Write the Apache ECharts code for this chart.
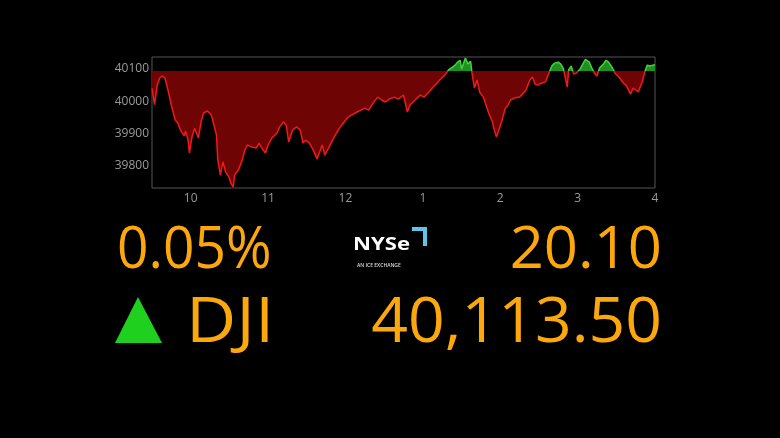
<!DOCTYPE html>
<html>
<head>
<meta charset="utf-8">
<style>
  html, body { margin: 0; padding: 0; background: #000; }
  #chart { width: 780px; height: 438px; }
</style>
<script src="https://cdn.jsdelivr.net/npm/echarts@6/dist/echarts.min.js"></script>
</head>
<body>
<div id="chart"></div>
<script>
// minutes after 9:30 and index level
const minutes = [0, 2, 4, 6, 8, 10, 12, 15, 18, 20, 22, 25, 26, 28, 29, 31, 33, 36, 38, 40,
  43, 46, 47, 50, 51, 53, 55, 57, 60, 61, 63, 64, 67, 70, 72, 74, 77, 78, 81, 83,
  85, 88, 90, 93, 97, 99, 102, 104, 106, 109, 112, 115, 117, 119, 122, 125, 128, 130, 132, 134,
  137, 140, 143, 146, 149, 152, 155, 159, 162, 165, 168, 171, 175, 178, 181, 184, 188, 191, 195, 198,
  200, 204, 208, 211, 214, 218, 221, 223, 227, 230, 233, 235, 237, 239, 240, 243, 245, 247, 248, 250,
  252, 254, 257, 259, 261, 264, 265, 267, 269, 271, 272, 274, 276, 278, 281, 285, 288, 290, 293, 295,
  297, 299, 302, 305, 308, 310, 312, 315, 317, 319, 322, 323, 325, 327, 329, 332, 334, 336, 339, 341,
  343, 345, 347, 350, 352, 354, 357, 359, 362, 365, 368, 371, 373, 375, 377, 380, 382, 384, 386, 390];
const prices = [40040, 39990, 40050, 40072, 40078, 40072, 40041, 39988, 39942, 39933, 39911, 39893, 39908, 39880, 39840, 39890, 39917, 39887, 39936, 39964,
  39970, 39958, 39964, 39896, 39819, 39772, 39813, 39782, 39763, 39748, 39735, 39772, 39788, 39819, 39850, 39865, 39859, 39865, 39856, 39871,
  39856, 39840, 39865, 39887, 39902, 39921, 39936, 39927, 39874, 39911, 39921, 39911, 39871, 39880, 39871, 39850, 39822, 39843, 39865, 39834,
  39856, 39880, 39902, 39921, 39936, 39951, 39958, 39967, 39973, 39979, 39973, 39992, 40013, 40004, 39998, 40007, 40013, 40007, 40019, 39967,
  39988, 40004, 40019, 40013, 40026, 40044, 40056, 40066, 40081, 40097, 40106, 40112, 40121, 40127, 40100, 40134, 40115, 40124, 40090, 40041,
  40066, 40029, 40013, 39988, 39964, 39936, 39917, 39890, 39911, 39936, 39951, 39979, 39988, 40004, 40010, 40013, 40026, 40035, 40066, 40075,
  40053, 40050, 40056, 40060, 40090, 40109, 40118, 40121, 40115, 40100, 40044, 40097, 40109, 40084, 40087, 40100, 40115, 40130, 40121, 40103,
  40087, 40078, 40103, 40115, 40127, 40121, 40103, 40087, 40075, 40059, 40047, 40022, 40041, 40035, 40029, 40059, 40090, 40112, 40109, 40113.5];
const prevClose = 40093.4;
const yTicks = [39800, 39900, 40000, 40100];
const hourTicks = [30, 90, 150, 210, 270, 330, 390];
const hourLabels = ['10', '11', '12', '1', '2', '3', '4'];

const changePct = '0.05%';
const changePts = '20.10';
const symbol = 'DJI';
const lastPrice = '40,113.50';

const chart = echarts.init(document.getElementById('chart'));
const seriesData = minutes.map((m, i) => [m, prices[i]]);
const orange = '#fca80c';
const big = '"Open Sans", sans-serif';
const yMin = 39732;
const yMax = 40137;

// big quote text, anchored at (x, y) top, stretched a little to the broadcast font's width
const quoteText = (text, x, y, size, align, sx) => ({
  type: 'text', x: x, y: y, scaleX: sx,
  style: { text: text, x: 0, y: 0, align: align, verticalAlign: 'top', fill: orange, font: '400 ' + size + 'px ' + big }
});

const option = {
  backgroundColor: '#000',
  animation: false,
  grid: {
    left: 152, right: 125, top: 57, bottom: 250,
    show: true, borderColor: '#555', borderWidth: 1
  },
  xAxis: {
    type: 'value', min: 0, max: 390,
    axisLine: { show: false }, axisTick: { show: false }, splitLine: { show: false },
    axisLabel: {
      customValues: hourTicks,
      color: '#9a9a9a', fontSize: 12, fontFamily: 'Open Sans', margin: 5,
      formatter: v => hourLabels[hourTicks.indexOf(v)]
    }
  },
  yAxis: {
    type: 'value', min: yMin, max: yMax,
    axisLine: { show: false }, axisTick: { show: false }, splitLine: { show: false },
    axisLabel: {
      customValues: yTicks,
      color: '#9a9a9a', fontSize: 12, fontFamily: 'Open Sans', margin: 3,
      formatter: v => String(v)
    }
  },
  visualMap: [
    {
      show: false, type: 'piecewise', dimension: 1, seriesIndex: 0,
      pieces: [
        { gte: yMin, lt: prevClose, color: '#6e0404' },
        { gte: prevClose, lte: yMax, color: '#1f8f1f' }
      ]
    },
    {
      show: false, type: 'piecewise', dimension: 1, seriesIndex: 1,
      pieces: [
        { gte: yMin, lt: prevClose, color: '#f01818' },
        { gte: prevClose, lte: yMax, color: '#3fd43f' }
      ]
    }
  ],
  series: [
    {
      type: 'line', data: seriesData, symbol: 'none', silent: true,
      lineStyle: { width: 0 },
      areaStyle: { origin: prevClose, opacity: 1 }
    },
    {
      type: 'line', data: seriesData, symbol: 'none', silent: true,
      lineStyle: { width: 1.5 }
    }
  ],
  graphic: [
    quoteText(changePct, 117, 222, 58, 'left', 0.95),
    quoteText(changePts, 662, 222, 58, 'right', 1.03),
    quoteText(symbol, 186, 293, 63, 'left', 1.1),
    quoteText(lastPrice, 662, 293, 63, 'right', 1.02),
    { type: 'polygon', shape: { points: [[138, 297], [115, 343], [162, 343]] }, style: { fill: '#1fd01f' } },
    {
      type: 'text', x: 353, y: 237, scaleX: 1.3,
      style: { text: 'NYSe', x: 0, y: 0, verticalAlign: 'top', fill: '#fff', font: '700 17px ' + big }
    },
    { type: 'polyline', shape: { points: [[412, 229], [425, 229], [425, 246]] }, style: { stroke: '#5cc6e8', lineWidth: 4, fill: null } },
    { type: 'text', left: 357, top: 263, style: { text: 'AN ICE EXCHANGE', fill: '#ddd', font: '600 5px ' + big } }
  ]
};

chart.setOption(option);
</script>
</body>
</html>
